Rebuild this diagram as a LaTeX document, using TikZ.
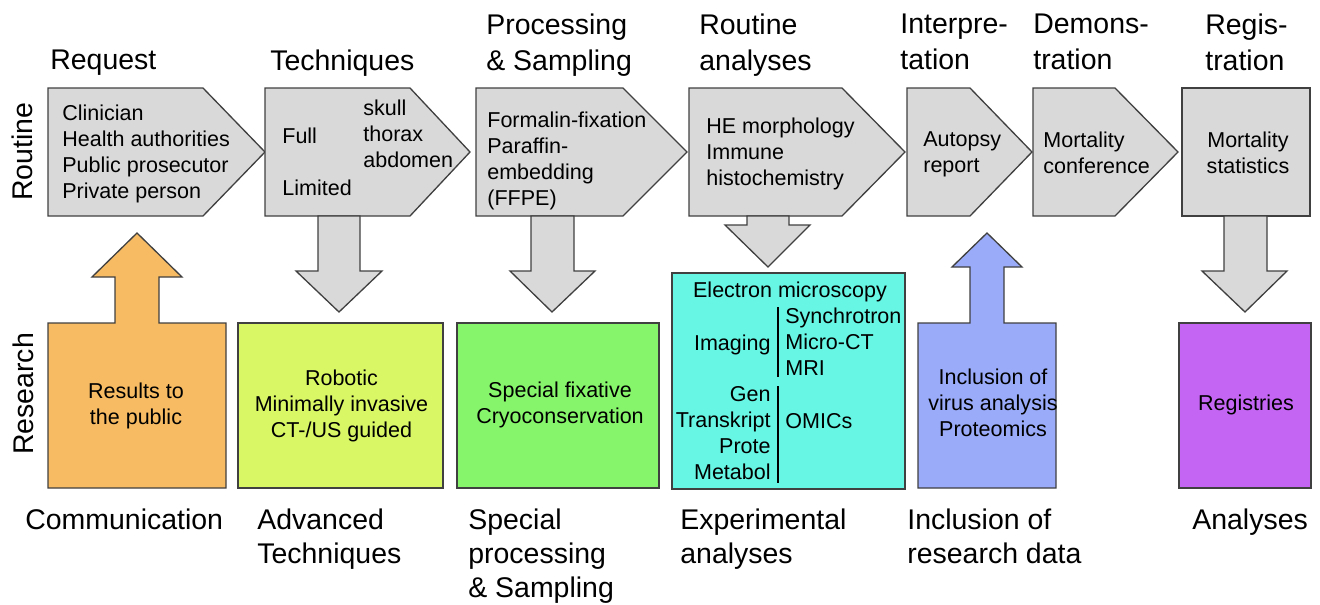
\documentclass[tikz,border=0pt]{standalone}
\usepackage{fontspec}
\setmainfont{Liberation Sans}
\definecolor{stagegray}{HTML}{D9D9D9}
\definecolor{edgegray}{HTML}{404040}
\definecolor{commorange}{HTML}{F6BB63}
\definecolor{techlime}{HTML}{D9F765}
\definecolor{procgreen}{HTML}{87F56B}
\definecolor{expcyan}{HTML}{66F6E3}
\definecolor{inclblue}{HTML}{9AABF9}
\definecolor{regpurple}{HTML}{C465F4}
\tikzset{
  stage/.style={draw=edgegray, fill=stagegray, line width=0.75pt},
  research/.style={draw=edgegray, fill=#1, line width=0.75pt},
  research/.default=stagegray,
  heading/.style={font=\fontsize{16.2}{19.3}\selectfont, align=left, inner sep=0pt},
  topheading/.style={font=\fontsize{16.2}{20.4}\selectfont, align=left, inner sep=0pt, anchor=north west},
  content/.style={font=\fontsize{12.25}{14.74}\selectfont, inner sep=0pt},
  lane/.style={font=\fontsize{16.2}{19.3}\selectfont, rotate=90, inner sep=0pt},
  omicbar/.style={line width=1.2pt, black},
}

\begin{document}
\begin{tikzpicture}[x=0.02cm, y=-0.02cm]
\useasboundingbox (0,0) rectangle (1320,605);

% Routine row: stages
\draw[stage] (48,88) -- (203,88) -- (265,152) -- (203,216) -- (48,216) -- cycle;
\draw[stage] (265,88) -- (410,88) -- (470,152) -- (410,216) -- (265,216) -- cycle;
\draw[stage] (476,88) -- (623,88) -- (687,152) -- (623,216) -- (476,216) -- cycle;
\draw[stage] (689,88) -- (842,88) -- (905,152) -- (842,216) -- (689,216) -- cycle;
\draw[stage] (907,88) -- (970,88) -- (1032,152) -- (970,216) -- (907,216) -- cycle;
\draw[stage] (1033,88) -- (1115,88) -- (1178,152) -- (1115,216) -- (1033,216) -- cycle;
\draw[stage] (1182,88) rectangle (1310,216);

% Down arrows into research
\draw[stage] (318,216) -- (318,271) -- (296,271) -- (339,312) -- (382,271) -- (360,271) -- (360,216) -- cycle;
\draw[stage] (531,216) -- (531,271) -- (510,271) -- (552,312) -- (595,271) -- (574,271) -- (574,216) -- cycle;
\draw[stage] (747,216) -- (747,225) -- (725,225) -- (768,267) -- (810,225) -- (789,225) -- (789,216) -- cycle;
\draw[stage] (1224,216) -- (1224,271) -- (1202,271) -- (1245,312) -- (1287,271) -- (1267,271) -- (1267,216) -- cycle;

% Research row
\draw[research=commorange] (48,488) -- (48,323) -- (115,323) -- (115,277) -- (92,277) -- (137,233)
  -- (182,277) -- (159,277) -- (159,323) -- (226,323) -- (226,488) -- cycle;
\draw[research=techlime] (238,323) rectangle (443,488);
\draw[research=procgreen] (457,323) rectangle (659,488);
\draw[research=expcyan] (672,273) rectangle (905,489);
\draw[research=inclblue] (918,488) -- (918,323) -- (970,323) -- (970,267) -- (952,267) -- (987,233)
  -- (1022,267) -- (1004,267) -- (1004,323) -- (1056,323) -- (1056,488) -- cycle;
\draw[research=regpurple] (1179,323) rectangle (1311,488);

% Lane labels
\node[lane] (routine) at (22.5,151.5) {Routine};
\node[lane] (research) at (23.5,394) {Research};

% Headings
\node[topheading] (hrequest) at (50,49.4) {Request};
\node[topheading] (htech) at (270,49.4) {Techniques};
\node[topheading] (hproc) at (486,13.4) {Processing\\\& Sampling};
\node[topheading] (hanalyses) at (699,13.4) {Routine\\analyses};
\node[topheading] (hinterp) at (900,13.4) {Interpre-\\tation};
\node[topheading] (hdemo) at (1033,13.4) {Demons-\\tration};
\node[topheading] (hregis) at (1205,13.4) {Regis-\\tration};

% Stage contents
\node[content, align=left, anchor=north west] (requesters) at (62,104.4)
  {Clinician\\Health authorities\\Public prosecutor\\Private person};
\node[content, anchor=base west] (full) at (282,143) {Full};
\node[content, anchor=base west] (limited) at (282,195) {Limited};
\node[content, align=left, anchor=north west] (regions) at (363,99.4) {skull\\thorax\\abdomen};
\node[content, align=left, anchor=north west] (ffpe) at (487,111.4)
  {Formalin-fixation\\Paraffin-\\embedding\\(FFPE)};
\node[content, align=left, anchor=north west] (he) at (706,117.4) {HE morphology\\Immune\\histochemistry};
\node[content, align=left, anchor=north west] (report) at (923,131.4) {Autopsy\\report};
\node[content, align=left, anchor=north west] (conference) at (1043,131.4) {Mortality\\conference};
\node[content, align=center, anchor=north] (statistics) at (1248,131.4) {Mortality\\statistics};

% Research contents
\node[content, align=center, anchor=north] (public) at (136,382.4) {Results to\\the public};
\node[content, align=center, anchor=north] (robotic) at (341.5,369.4)
  {Robotic\\Minimally invasive\\CT-/US guided};
\node[content, align=center, anchor=north] (fixative) at (560,381.4) {Special fixative\\Cryoconservation};
\node[content, anchor=north] (electron) at (790,281.4) {Electron microscopy};
\node[content, anchor=base east] (imaging) at (771,350) {Imaging};
\node[content, align=left, anchor=north west] (modalities) at (785,307.4) {Synchrotron\\Micro-CT\\MRI};
\node[content, align=right, anchor=north east] (omicsparts) at (771,386.4)
  {Gen\\Transkript\\Prote\\Metabol};
\node[content, anchor=base west] (omics) at (785,428) {OMICs};
\draw[omicbar] (778,307) -- (778,377);
\draw[omicbar] (778,386) -- (778,483);
\node[content, align=center, anchor=north] (virus) at (993,368.4)
  {Inclusion of\\virus analysis\\Proteomics};
\node[content, anchor=base] (registries) at (1246,410) {Registries};

% Bottom labels
\node[heading, anchor=north west] (lcomm) at (25,508.4) {Communication};
\node[heading, anchor=north west] (ladv) at (257,508.4) {Advanced\\Techniques};
\node[heading, anchor=north west] (lspecial) at (468,508.4) {Special\\processing\\\& Sampling};
\node[heading, anchor=north west] (lexp) at (680,508.4) {Experimental\\analyses};
\node[heading, anchor=north west] (lincl) at (907,508.4) {Inclusion of\\research data};
\node[heading, anchor=north west] (lanalyses) at (1192,508.4) {Analyses};

\end{tikzpicture}
\end{document}
